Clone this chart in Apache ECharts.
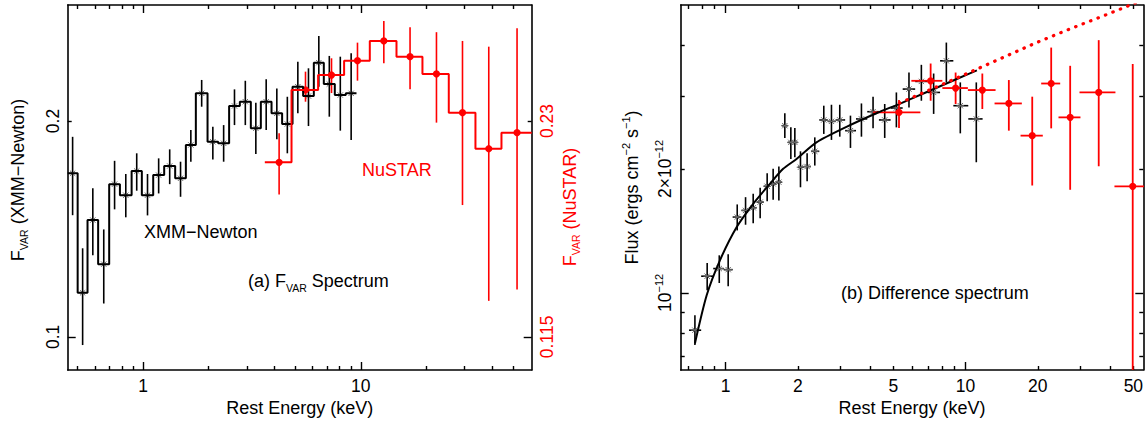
<!DOCTYPE html>
<html><head><meta charset="utf-8">
<script src="https://cdn.jsdelivr.net/npm/echarts@6/dist/echarts.min.js"></script>
<style>html,body{margin:0;padding:0;background:#fff}#c{width:1148px;height:422px}</style>
</head><body><div id="c"></div>
<script>
// ---------------- DATA ----------------
// Panel (a): XMM-Newton F_var spectrum (histogram bins)
const xmmA_edges = [0.45, 0.50, 0.555, 0.621, 0.698, 0.782, 0.885, 0.986, 1.112, 1.249, 1.403, 1.571, 1.746, 1.976, 2.211, 2.483, 2.781, 3.124, 3.473, 3.889, 4.350, 4.857, 5.433, 6.084, 6.762, 7.596, 8.534, 9.555];
const xmmA_E   = [0.474, 0.527, 0.587, 0.659, 0.739, 0.832, 0.934, 1.047, 1.178, 1.324, 1.485, 1.656, 1.857, 2.090, 2.343, 2.628, 2.947, 3.294, 3.675, 4.113, 4.597, 5.137, 5.749, 6.414, 7.167, 8.051, 9.030];
const xmmA_F   = [0.1691, 0.1152, 0.1455, 0.1263, 0.1633, 0.1576, 0.1703, 0.1576, 0.1681, 0.1731, 0.1664, 0.1852, 0.2186, 0.1871, 0.1862, 0.2099, 0.2128, 0.1954, 0.2128, 0.2050, 0.1981, 0.2233, 0.2167, 0.2412, 0.2252, 0.2174, 0.2186];
const xmmA_Fhi = [0.1901, 0.1329, 0.1611, 0.1412, 0.1760, 0.1687, 0.1803, 0.1687, 0.1774, 0.1826, 0.1755, 0.1943, 0.2282, 0.1964, 0.1974, 0.2214, 0.2276, 0.2121, 0.2287, 0.2221, 0.2162, 0.2420, 0.2369, 0.2628, 0.2465, 0.2459, 0.2486];
const xmmA_Flo = [0.1478, 0.0974, 0.1300, 0.1113, 0.1506, 0.1468, 0.1599, 0.1477, 0.1585, 0.1633, 0.1568, 0.1755, 0.2094, 0.1768, 0.1755, 0.1974, 0.1974, 0.1799, 0.1943, 0.1886, 0.1803, 0.2050, 0.1968, 0.2233, 0.2028, 0.1939, 0.1882];
// Panel (a): NuSTAR F_var spectrum (right-hand axis)
const nuA_edges = [3.622, 4.805, 6.366, 8.382, 11.0, 14.59, 19.2, 25.37, 33.64, 44.3, 61];
const nuA_E   = [4.214, 5.571, 7.336, 9.656, 12.76, 16.84, 22.27, 29.33, 38.73, 52.24];
const nuA_F   = [0.2014, 0.2541, 0.2666, 0.2791, 0.2974, 0.2828, 0.2675, 0.2362, 0.2104, 0.2215];
const nuA_Fhi = [0.2211, 0.2695, 0.2813, 0.2958, 0.3172, 0.3109, 0.3059, 0.2974, 0.2920, 0.3098];
const nuA_Flo = [0.1817, 0.2447, 0.2516, 0.2618, 0.2768, 0.2547, 0.2288, 0.1756, 0.1291, 0.1339];

// Panel (b): XMM-Newton difference spectrum (flux, erg cm^-2 s^-1)
const xmmB_E   = [0.745, 0.838, 0.941, 1.025, 1.118, 1.211, 1.303, 1.393, 1.490, 1.578, 1.667, 1.765, 1.870, 1.943, 2.051, 2.186, 2.353, 2.565, 2.761, 2.990, 3.313, 3.681, 4.115, 4.602, 5.147, 5.808, 6.541, 7.359, 8.313, 9.504, 11.08];
const xmmB_Elo = [0.704, 0.791, 0.888, 0.982, 1.070, 1.164, 1.256, 1.347, 1.441, 1.533, 1.623, 1.716, 1.816, 1.906, 1.998, 2.118, 2.269, 2.457, 2.663, 2.874, 3.148, 3.493, 3.892, 4.353, 4.870, 5.468, 6.164, 6.941, 7.826, 8.890, 10.26];
const xmmB_Ehi = [0.791, 0.888, 0.982, 1.070, 1.164, 1.256, 1.347, 1.441, 1.533, 1.623, 1.716, 1.816, 1.906, 1.998, 2.118, 2.269, 2.457, 2.663, 2.874, 3.148, 3.493, 3.892, 4.353, 4.870, 5.468, 6.164, 6.941, 7.826, 8.890, 10.26, 11.77];
const xmmB_F   = [0.812e-12, 1.098e-12, 1.146e-12, 1.139e-12, 1.528e-12, 1.586e-12, 1.610e-12, 1.661e-12, 1.815e-12, 1.840e-12, 1.857e-12, 2.547e-12, 2.320e-12, 2.320e-12, 2.019e-12, 2.027e-12, 2.207e-12, 2.630e-12, 2.609e-12, 2.630e-12, 2.477e-12, 2.645e-12, 2.754e-12, 2.630e-12, 2.811e-12, 3.125e-12, 3.262e-12, 3.067e-12, 3.660e-12, 2.848e-12, 2.645e-12];
const xmmB_Fhi = [0.883e-12, 1.182e-12, 1.234e-12, 1.241e-12, 1.640e-12, 1.708e-12, 1.741e-12, 1.800e-12, 1.953e-12, 2.001e-12, 2.027e-12, 2.729e-12, 2.523e-12, 2.515e-12, 2.207e-12, 2.183e-12, 2.386e-12, 2.848e-12, 2.863e-12, 2.863e-12, 2.694e-12, 2.884e-12, 2.995e-12, 2.875e-12, 3.067e-12, 3.428e-12, 3.579e-12, 3.409e-12, 4.053e-12, 3.244e-12, 3.244e-12];
const xmmB_Flo = [0.747e-12, 1.015e-12, 1.057e-12, 1.038e-12, 1.418e-12, 1.464e-12, 1.477e-12, 1.519e-12, 1.670e-12, 1.683e-12, 1.677e-12, 2.378e-12, 2.115e-12, 2.134e-12, 1.805e-12, 1.867e-12, 2.038e-12, 2.432e-12, 2.352e-12, 2.395e-12, 2.249e-12, 2.395e-12, 2.509e-12, 2.378e-12, 2.523e-12, 2.821e-12, 2.928e-12, 2.720e-12, 3.244e-12, 2.440e-12, 2.076e-12];
// Panel (b): NuSTAR difference spectrum
const nuB_E   = [5.278, 7.150, 9.087, 11.74, 15.14, 18.95, 22.73, 27.27, 35.86, 49.69];
const nuB_Elo = [4.115, 5.943, 8.000, 10.22, 13.20, 16.94, 20.65, 24.38, 29.82, 41.70];
const nuB_Ehi = [6.479, 8.000, 10.22, 13.33, 17.15, 20.97, 24.78, 30.10, 42.10, 58.30];
const nuB_F   = [2.744e-12, 3.273e-12, 3.143e-12, 3.108e-12, 2.884e-12, 2.409e-12, 3.224e-12, 2.668e-12, 3.067e-12, 1.815e-12];
const nuB_Fhi = [2.940e-12, 3.605e-12, 3.428e-12, 3.409e-12, 3.287e-12, 2.995e-12, 3.941e-12, 3.559e-12, 4.108e-12, 3.593e-12];
const nuB_Flo = [2.515e-12, 2.928e-12, 2.875e-12, 2.796e-12, 2.477e-12, 1.823e-12, 2.509e-12, 1.780e-12, 2.030e-12, 0.500e-12];
// Panel (b): model curves
const modelE = [0.745, 0.834, 0.947, 1.111, 1.303, 1.529, 1.737, 1.975, 2.391, 3.188, 4.25, 5.40, 6.86, 9.44, 11.14];
const modelF = [0.754e-12, 0.987e-12, 1.200e-12, 1.444e-12, 1.646e-12, 1.840e-12, 2.001e-12, 2.115e-12, 2.320e-12, 2.530e-12, 2.730e-12, 2.890e-12, 3.070e-12, 3.330e-12, 3.470e-12];
const extrapE = [5.3, 9.15, 19.7, 27.1, 37.3, 46.6, 70];
const extrapF = [2.89e-12, 3.32e-12, 4.05e-12, 4.37e-12, 4.70e-12, 4.95e-12, 5.47e-12];

// Axis ranges and ticks
const xA_range = [0.45, 61];
const yA_range = [0.0899, 0.2903];
const yAN_range = [0.1034, 0.3338];
const xB_range = [0.65, 55];
const yB_range = [6.5e-13, 5.0e-12];
const xA_major = [1, 10], xA_minor = [0.5, 0.6, 0.7, 0.8, 0.9, 2, 3, 4, 5, 6, 7, 8, 9, 20, 30, 40, 50], xA_labels = [1, 10];
const yA_major = [0.1], yA_minor = [0.2], yA_labels = [0.1, 0.2];
const yAN_major = [0.115], yAN_minor = [0.23], yAN_labels = [0.115, 0.23];
const xB_major = [1, 10], xB_minor = [0.7, 0.8, 0.9, 2, 3, 4, 5, 6, 7, 8, 9, 20, 30, 40, 50], xB_labels = [1, 2, 5, 10, 20, 50];
const yB_major = [1e-12], yB_minor = [7e-13, 8e-13, 9e-13, 2e-12, 3e-12, 4e-12], yB_labels = [1e-12, 2e-12];

// ---------------- CHART ----------------
const FONT = "'Liberation Sans', Arial, sans-serif";
const RED = '#ff0000', BLACK = '#000000';
const chart = echarts.init(document.getElementById('c'), null, {renderer: 'svg'});

const fmtNum = v => String(+(+v).toPrecision(3));
const fmtFlux = v => { const m = +(v / 1e-12).toPrecision(3); return (m === 1 ? '{t|10}' : '{t|' + m + '×10}') + '{s|−12}'; };
const supRich = (size, color) => ({t: {fontSize: size, fontFamily: FONT, color, lineHeight: 22}, s: {fontSize: 11, fontFamily: FONT, color, lineHeight: 11, verticalAlign: 'top'}});
const subRich = (color) => ({m: {fontSize: 18, fontFamily: FONT, color, lineHeight: 24}, s: {fontSize: 10.5, fontFamily: FONT, color, lineHeight: 11, verticalAlign: 'bottom'}});

function ax(grid, range, position, opt) {
  const base = {
    gridIndex: grid, type: 'log', logBase: 10, min: range[0], max: range[1], position,
    axisLine: {show: false, lineStyle: {color: BLACK, width: 1.6}},
    axisTick: {show: false},
    axisLabel: {show: false},
    splitLine: {show: false}, minorTick: {show: false}, minorSplitLine: {show: false},
    nameMoveOverlap: false
  };
  return Object.assign(base, opt);
}
const tick = (vals, len) => ({show: true, inside: true, length: len, customValues: vals, lineStyle: {color: BLACK, width: 1.4}});
const lineOn = {show: true, lineStyle: {color: BLACK, width: 1.6}};

const xAxis = [
  ax(0, xA_range, 'bottom', {axisLine: lineOn, axisTick: tick(xA_major, 8),
    axisLabel: {show: true, customValues: xA_labels, formatter: fmtNum, fontSize: 17.5, fontFamily: FONT, color: BLACK, margin: 7},
    name: 'Rest Energy (keV)', nameLocation: 'middle', nameGap: 29, nameTextStyle: {fontSize: 18, fontFamily: FONT, color: BLACK}}),
  ax(0, xA_range, 'bottom', {axisTick: tick(xA_minor, 4)}),
  ax(0, xA_range, 'top', {axisLine: lineOn, axisTick: tick(xA_major, 8)}),
  ax(0, xA_range, 'top', {axisTick: tick(xA_minor, 4)}),
  ax(1, xB_range, 'bottom', {axisLine: lineOn, axisTick: tick(xB_major, 8),
    axisLabel: {show: true, customValues: xB_labels, formatter: fmtNum, fontSize: 17.5, fontFamily: FONT, color: BLACK, margin: 7},
    name: 'Rest Energy (keV)', nameLocation: 'middle', nameGap: 29, nameTextStyle: {fontSize: 18, fontFamily: FONT, color: BLACK}}),
  ax(1, xB_range, 'bottom', {axisTick: tick(xB_minor, 4)}),
  ax(1, xB_range, 'top', {axisLine: lineOn, axisTick: tick(xB_major, 8)}),
  ax(1, xB_range, 'top', {axisTick: tick(xB_minor, 4)})
];
const yAxis = [
  ax(0, yA_range, 'left', {axisLine: lineOn, axisTick: tick(yA_major, 8),
    axisLabel: {show: true, customValues: yA_labels, formatter: fmtNum, rotate: 90, fontSize: 17.5, fontFamily: FONT, color: BLACK, margin: 6},
    name: '{m|F}{s|VAR}{m| (XMM−Newton)}', nameLocation: 'middle', nameRotate: 90, nameGap: 38,
    nameTextStyle: {color: BLACK, rich: subRich(BLACK), padding: [0, 0, 0, 15]}}),
  ax(0, yA_range, 'left', {axisTick: tick(yA_minor, 4)}),
  ax(0, yAN_range, 'right', {axisLine: lineOn, axisTick: tick(yAN_major, 8),
    axisLabel: {show: true, customValues: yAN_labels, formatter: fmtNum, rotate: 90, fontSize: 17.5, fontFamily: FONT, color: RED, margin: 6},
    name: '{m|F}{s|VAR}{m| (NuSTAR)}', nameLocation: 'middle', nameRotate: 90, nameGap: 26,
    nameTextStyle: {color: RED, rich: subRich(RED), padding: [0, 39, 0, 0]}}),
  ax(0, yAN_range, 'right', {axisTick: tick(yAN_minor, 4)}),
  ax(1, yB_range, 'left', {axisLine: lineOn, axisTick: tick(yB_major, 8),
    axisLabel: {show: true, customValues: yB_labels, formatter: fmtFlux, rotate: 90, color: BLACK, margin: 5, rich: supRich(17.5, BLACK)},
    name: '{t|Flux (ergs cm}{s|−2}{t| s}{s|−1}{t|)}', nameLocation: 'middle', nameRotate: 90, nameGap: 38,
    nameTextStyle: {color: BLACK, rich: supRich(18, BLACK)}}),
  ax(1, yB_range, 'left', {axisTick: tick(yB_minor, 4)}),
  ax(1, yB_range, 'right', {axisLine: lineOn, axisTick: tick(yB_major, 8)}),
  ax(1, yB_range, 'right', {axisTick: tick(yB_minor, 4)})
];

function histPts(edges, vals) {
  const out = [];
  vals.forEach((v, i) => { out.push([edges[i], v]); out.push([edges[i + 1], v]); });
  return out;
}
function rows(E, F, Elo, Ehi, Flo, Fhi) {
  return E.map((e, i) => [e, F[i], Elo ? Elo[i] : e, Ehi ? Ehi[i] : e, Flo[i], Fhi[i]]);
}
function errSeries(xi, yi, data, o) {
  return {
    type: 'custom', xAxisIndex: xi, yAxisIndex: yi, clip: true, data,
    encode: {x: [0, 2, 3], y: [1, 4, 5]},
    renderItem: function (params, api) {
      const E = api.value(0), F = api.value(1);
      const c = api.coord([E, F]);
      const vl = api.coord([E, api.value(4)]), vh = api.coord([E, api.value(5)]);
      const hl = api.coord([api.value(2), F]), hh = api.coord([api.value(3), F]);
      const ls = {stroke: o.color, lineWidth: o.lw};
      const ch = [{type: 'line', shape: {x1: vl[0], y1: vl[1], x2: vh[0], y2: vh[1]}, style: ls}];
      if (o.xbar) ch.push({type: 'line', shape: {x1: hl[0], y1: hl[1], x2: hh[0], y2: hh[1]}, style: ls});
      if (o.marker === 'dot') ch.push({type: 'circle', shape: {cx: c[0], cy: c[1], r: 3.6}, style: {fill: o.color}});
      if (o.marker === 'star') {
        const r = 3.8, d = r * 0.7, st = {stroke: '#6a6a6a', lineWidth: 1};
        ch.push({type: 'line', shape: {x1: c[0] - r, y1: c[1], x2: c[0] + r, y2: c[1]}, style: st});
        ch.push({type: 'line', shape: {x1: c[0] - d, y1: c[1] - d, x2: c[0] + d, y2: c[1] + d}, style: st});
        ch.push({type: 'line', shape: {x1: c[0] - d, y1: c[1] + d, x2: c[0] + d, y2: c[1] - d}, style: st});
      }
      return {type: 'group', children: ch};
    }
  };
}

const series = [
  {type: 'line', xAxisIndex: 0, yAxisIndex: 0, data: histPts(xmmA_edges, xmmA_F), symbol: 'none', clip: true,
   lineStyle: {color: BLACK, width: 2}, silent: true},
  errSeries(0, 0, rows(xmmA_E, xmmA_F, null, null, xmmA_Flo, xmmA_Fhi), {color: BLACK, lw: 1.6, marker: 'star'}),
  {type: 'line', xAxisIndex: 0, yAxisIndex: 2, data: histPts(nuA_edges, nuA_F), symbol: 'none', clip: true,
   lineStyle: {color: RED, width: 2}, silent: true},
  errSeries(0, 2, rows(nuA_E, nuA_F, null, null, nuA_Flo, nuA_Fhi), {color: RED, lw: 1.6, marker: 'dot'}),
  {type: 'line', xAxisIndex: 4, yAxisIndex: 4, data: modelE.map((e, i) => [e, modelF[i]]), symbol: 'none', clip: true,
   smooth: 0.25, lineStyle: {color: BLACK, width: 2}, silent: true},
  {type: 'line', xAxisIndex: 4, yAxisIndex: 4, data: extrapE.map((e, i) => [e, extrapF[i]]), symbol: 'none', clip: true,
   lineStyle: {color: RED, width: 3.2, type: [0.5, 7.5], cap: 'round'}, silent: true},
  errSeries(4, 4, rows(xmmB_E, xmmB_F, xmmB_Elo, xmmB_Ehi, xmmB_Flo, xmmB_Fhi), {color: BLACK, lw: 1.6, xbar: true, marker: 'star'}),
  errSeries(4, 4, rows(nuB_E, nuB_F, nuB_Elo, nuB_Ehi, nuB_Flo, nuB_Fhi), {color: RED, lw: 1.8, xbar: true, marker: 'dot'})
];

const txt = (x, y, text, color, rich) => ({type: 'text', x, y, silent: true,
  style: {text, fill: color, fontSize: 18, fontFamily: FONT, verticalAlign: 'middle', rich}});

chart.setOption({
  animation: false,
  backgroundColor: '#ffffff',
  textStyle: {fontFamily: FONT},
  grid: [
    {left: 67.7, top: 5, width: 464, height: 365, outerBoundsMode: 'none', containLabel: false},
    {left: 680.7, top: 5, width: 462.6, height: 365, outerBoundsMode: 'none', containLabel: false}
  ],
  xAxis, yAxis, series,
  graphic: [
    txt(144, 232, 'XMM−Newton', BLACK),
    txt(248, 281, '{m|(a) F}{s|VAR}{m| Spectrum}', BLACK, subRich(BLACK)),
    txt(362, 170, 'NuSTAR', RED),
    txt(841, 293, '(b) Difference spectrum', BLACK)
  ]
});
</script></body></html>
